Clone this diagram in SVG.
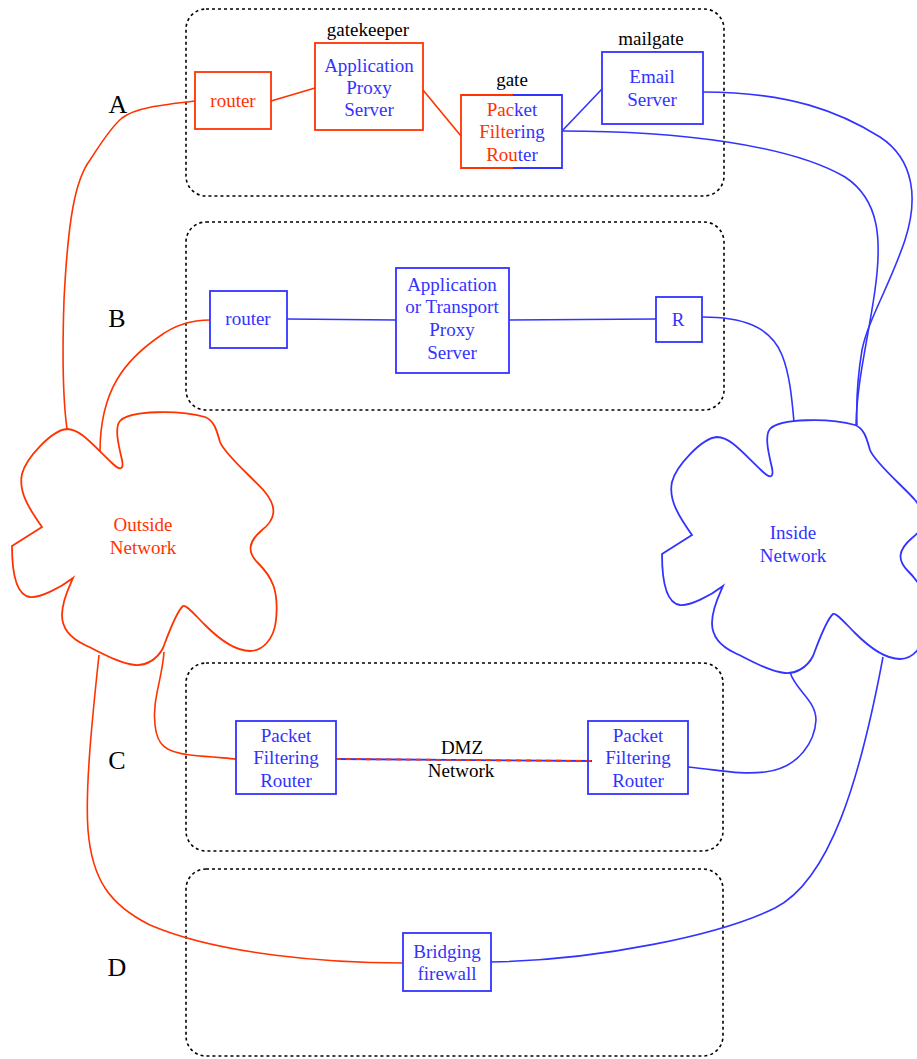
<svg xmlns="http://www.w3.org/2000/svg" width="917" height="1059" viewBox="0 0 917 1059">
<style>
text{font-family:"Liberation Serif","Times New Roman",serif;font-size:19px;text-anchor:middle}
.lbl{font-size:26px;fill:#000}
.blk{fill:#000}
.r{fill:#ff3300}
.b{fill:#3333ff}
.zone{fill:none;stroke:#000;stroke-width:1.6;stroke-dasharray:3,3}
.rbox{fill:none;stroke:#ff3300;stroke-width:1.8}
.bbox{fill:none;stroke:#3333ff;stroke-width:1.8}
.rl{fill:none;stroke:#ff3300;stroke-width:1.6}
.bl{fill:none;stroke:#3333ff;stroke-width:1.6}
</style>
<defs>
<path id="cloud" fill="none" stroke-width="1.8" d="M42,527 C30,510 18,492 22,474 C26,458 52,430 67,429 C80,429 92,444 112,463 C120,471 124,470 122,460 C119,447 114,428 120,421 C130,410 180,410 205,417 C215,421 217,432 220,442 C225,455 255,480 265,492 C278,508 275,520 262,530 C248,542 247,552 258,563 C272,577 279,590 276,620 C274,640 262,651 250,651 C232,651 215,635 205,625 C195,615 186,604 183,606 C176,612 168,635 163,648 C157,660 145,666 135,665 C118,663 100,652 85,645 C70,638 62,628 62,615 C62,600 70,585 73,578 C60,588 40,598 30,597 C15,595 12,570 12,546 Z"/>
</defs>
<g id="zones">
<rect class="zone" x="186" y="9" width="538" height="187" rx="20"/>
<rect class="zone" x="186" y="222" width="538" height="188" rx="20"/>
<rect class="zone" x="186" y="663" width="537" height="188" rx="20"/>
<rect class="zone" x="186" y="869" width="537" height="187" rx="20"/>
<text class="lbl" x="118" y="113">A</text>
<text class="lbl" x="117" y="327">B</text>
<text class="lbl" x="117" y="769">C</text>
<text class="lbl" x="117" y="976">D</text>
</g>
<g id="connectors">
<path class="rl" d="M195,101 C160,105 135,108 122,118 C110,128 100,145 90,160 C75,180 68,220 64,300 C62,360 63,400 67,429"/>
<path class="rl" d="M210,320 C190,320 175,325 160,336 C125,360 100,390 100,452"/>
<line class="rl" x1="271" y1="101" x2="315" y2="88"/>
<line class="rl" x1="423" y1="90" x2="461" y2="136"/>
<line class="bl" x1="562" y1="131" x2="602" y2="89"/>
<path class="bl" d="M703,92 C790,92 840,112 880,137 C915,160 918,200 905,240 C890,285 868,320 862,350 C857,380 856,400 857,425"/>
<path class="bl" d="M562,131 C680,131 790,145 845,177 C880,200 882,240 875,290 C868,340 857,380 856,425"/>
<line class="bl" x1="287" y1="319" x2="396" y2="320"/>
<line class="bl" x1="509" y1="320" x2="656" y2="319"/>
<path class="bl" d="M702,317 C740,317 770,325 782,355 C790,375 792,400 794,422"/>
<path class="rl" d="M164,652 C162,680 152,700 155,725 C157,745 165,752 190,755 C210,757 225,758 236,759"/>
<line x1="336" y1="759" x2="592" y2="761" stroke="#3333ff" stroke-width="1.8"/>
<line x1="336" y1="759" x2="592" y2="761" stroke="#ff3300" stroke-width="1.8" stroke-dasharray="5,5"/>
<path class="bl" d="M688,767 C720,770 740,775 765,772 C800,768 815,740 816,720 C816,700 795,690 790,672"/>
<path class="rl" d="M99,655 C92,720 85,790 88,830 C92,880 110,905 150,925 C220,955 330,963 403,963"/>
<path class="bl" d="M491,962 C600,960 720,935 775,908 C830,880 860,780 883,657"/>
</g>
<g id="outside">
<use href="#cloud" stroke="#ff3300"/>
<text class="r" x="143" y="531">Outside</text>
<text class="r" x="143" y="554">Network</text>
</g>
<g id="inside">
<use href="#cloud" stroke="#3333ff" transform="translate(650,8)"/>
<text class="b" x="793" y="539">Inside</text>
<text class="b" x="793" y="562">Network</text>
</g>
<g id="a-router">
<rect class="rbox" x="195" y="72" width="76" height="57"/>
<text class="r" x="233" y="107">router</text>
</g>
<g id="a-gatekeeper">
<text class="blk" x="368" y="36">gatekeeper</text>
<rect class="rbox" x="315" y="43" width="108" height="87"/>
<text class="b" x="369" y="72">Application</text>
<text class="b" x="369" y="94">Proxy</text>
<text class="b" x="369" y="116">Server</text>
</g>
<g id="a-gate">
<text class="blk" x="512" y="86">gate</text>
<path class="rbox" d="M513,95 H461 V168 H513"/>
<path class="bbox" d="M513,95 H562 V168 H513"/>
<text x="512" y="116"><tspan class="r">Pac</tspan><tspan class="b">ket</tspan></text>
<text x="512" y="138"><tspan class="r">Filte</tspan><tspan class="b">ring</tspan></text>
<text x="512" y="161"><tspan class="r">Rou</tspan><tspan class="b">ter</tspan></text>
</g>
<g id="a-mailgate">
<text class="blk" x="651" y="45">mailgate</text>
<rect class="bbox" x="602" y="52" width="101" height="72"/>
<text class="b" x="652" y="83">Email</text>
<text class="b" x="652" y="106">Server</text>
</g>
<g id="b-router">
<rect class="bbox" x="210" y="291" width="77" height="57"/>
<text class="b" x="248" y="325">router</text>
</g>
<g id="b-proxy">
<rect class="bbox" x="396" y="268" width="113" height="105"/>
<text class="b" x="452" y="291">Application</text>
<text class="b" x="452" y="313">or Transport</text>
<text class="b" x="452" y="336">Proxy</text>
<text class="b" x="452" y="359">Server</text>
</g>
<g id="b-r">
<rect class="bbox" x="656" y="297" width="46" height="45"/>
<text class="b" x="678" y="326">R</text>
</g>
<g id="c-pfr1">
<rect class="bbox" x="236" y="721" width="100" height="73"/>
<text class="b" x="286" y="742">Packet</text>
<text class="b" x="286" y="764">Filtering</text>
<text class="b" x="286" y="787">Router</text>
</g>
<g id="c-dmz">
<text class="blk" x="462" y="754">DMZ</text>
<text class="blk" x="461" y="777">Network</text>
</g>
<g id="c-pfr2">
<rect class="bbox" x="588" y="721" width="100" height="73"/>
<text class="b" x="638" y="742">Packet</text>
<text class="b" x="638" y="764">Filtering</text>
<text class="b" x="638" y="787">Router</text>
</g>
<g id="d-bridge">
<rect class="bbox" x="403" y="933" width="88" height="58"/>
<text class="b" x="447" y="958">Bridging</text>
<text class="b" x="447" y="980">firewall</text>
</g>
</svg>
